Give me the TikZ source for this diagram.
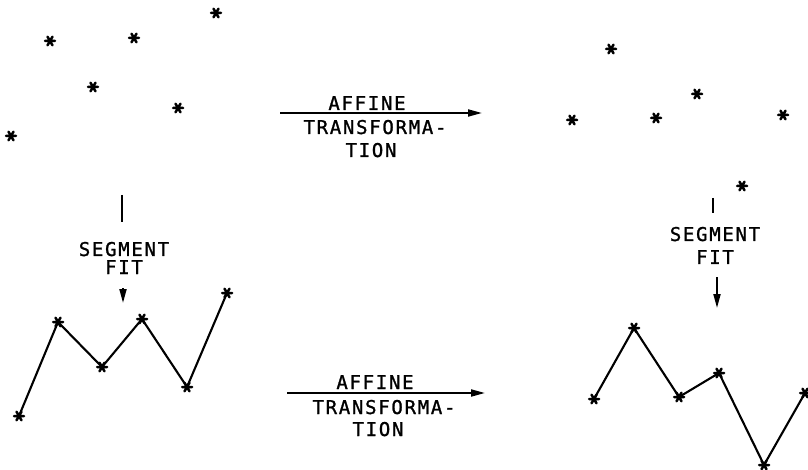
\documentclass[tikz,border=0pt]{standalone}
\usepackage{fontspec}
\newfontfamily\plotfont[LetterSpace=9,FakeBold=1.2]{DejaVu Sans Mono}
\usetikzlibrary{arrows.meta,calc}
\begin{document}
\begin{tikzpicture}[x=1pt,y=-1pt,
  lbl/.style={font=\plotfont\fontsize{19}{21}\selectfont, anchor=base, inner sep=0pt},
  poly/.style={line width=2.1pt, line join=round},
  conn/.style={line width=1.9pt},
  arr/.style={line width=1.9pt, -{Triangle[length=14pt,width=7pt]}},
  starmark/.style={line width=2.5pt, line cap=round}]
\useasboundingbox (0,0) rectangle (808,470);
% top-left point set
\coordinate (p1) at (216,13);
\coordinate (p2) at (50,41);
\coordinate (p3) at (134,38);
\coordinate (p4) at (93,87);
\coordinate (p5) at (178,108);
\coordinate (p6) at (11,136);
% top-right point set
\coordinate (q1) at (611,49);
\coordinate (q2) at (697,94);
\coordinate (q3) at (572,120);
\coordinate (q4) at (656,118);
\coordinate (q5) at (783,115);
\coordinate (q6) at (742,186);
% bottom-left polyline
\coordinate (a1) at (19,416);
\coordinate (a2) at (58,322);
\coordinate (a3) at (102,367);
\coordinate (a4) at (142,319);
\coordinate (a5) at (187,387);
\coordinate (a6) at (227,293);
% bottom-right polyline
\coordinate (b1) at (594,399);
\coordinate (b2) at (634,328);
\coordinate (b3) at (679,397);
\coordinate (b4) at (719,373);
\coordinate (b5) at (764,465);
\coordinate (b6) at (805,393);
\draw[poly] (a1) -- (a2) -- (a3) -- (a4) -- (a5) -- (a6);
\draw[poly] (b1) -- (b2) -- (b3) -- (b4) -- (b5) -- (b6);
\foreach \n in {p1,p2,p3,p4,p5,p6,q1,q2,q3,q4,q5,q6,a1,a2,a3,a4,a5,a6,b1,b2,b3,b4,b5,b6}{
  \draw[starmark] ($(\n)+(-5,0)$) -- ($(\n)+(5,0)$)
    ($(\n)+(240:5)$) -- ($(\n)+(60:5)$)
    ($(\n)+(300:5)$) -- ($(\n)+(120:5)$);
}
% top horizontal arrow
\coordinate (t1) at (280,113);
\coordinate (t2) at (482,113);
\draw[arr] (t1) -- (t2);
\node[lbl] (ta) at (367,110) {AFFINE};
\node[lbl] (tb) at (375,134) {TRANSFORMA-};
\node[lbl] (tc) at (371,157) {TION};
% bottom horizontal arrow
\coordinate (u1) at (287,393);
\coordinate (u2) at (485,393);
\draw[arr] (u1) -- (u2);
\node[lbl] (ua) at (375,389) {AFFINE};
\node[lbl] (ub) at (384,414) {TRANSFORMA-};
\node[lbl] (uc) at (378,436) {TION};
% left vertical
\coordinate (l1) at (122,195);
\coordinate (l2) at (122,222);
\draw[conn] (l1) -- (l2);
\node[lbl] (la) at (124,256) {SEGMENT};
\node[lbl] (lb) at (124,274) {FIT};
\coordinate (l3) at (123,288);
\coordinate (l4) at (123,303);
\draw[arr] (l3) -- (l4);
% right vertical
\coordinate (r1) at (713,198);
\coordinate (r2) at (713,213);
\draw[conn] (r1) -- (r2);
\node[lbl] (ra) at (715,241) {SEGMENT};
\node[lbl] (rb) at (715,264) {FIT};
\coordinate (r3) at (717,277);
\coordinate (r4) at (717,308);
\draw[arr] (r3) -- (r4);
\end{tikzpicture}
\end{document}
